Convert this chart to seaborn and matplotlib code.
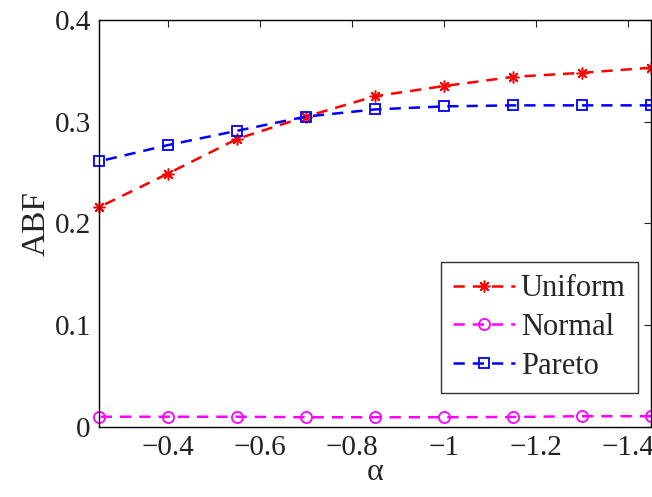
import numpy as np
import pandas as pd
import matplotlib
matplotlib.use("Agg")
import matplotlib.pyplot as plt
import seaborn as sns

alpha = [-0.25, -0.40, -0.55, -0.70, -0.85, -1.00, -1.15, -1.30, -1.45]
uniform = [0.216, 0.249, 0.283, 0.305, 0.325, 0.335, 0.344, 0.348, 0.353]
normal = [0.010, 0.010, 0.010, 0.0095, 0.0095, 0.0095, 0.0098, 0.0105, 0.0105]
pareto = [0.261, 0.277, 0.291, 0.305, 0.312, 0.315, 0.316, 0.316, 0.316]
xticks = [-0.4, -0.6, -0.8, -1.0, -1.2, -1.4]
xticklabels = ["\u22120.4", "\u22120.6", "\u22120.8", "\u22121", "\u22121.2", "\u22121.4"]
yticks = [0, 0.1, 0.2, 0.3, 0.4]
yticklabels = ["0", "0.1", "0.2", "0.3", "0.4"]

sns.set_style("white")
plt.rcParams['font.family'] = ['Liberation Serif', 'DejaVu Serif']
plt.rcParams['mathtext.fontset'] = 'stix'

fig = plt.figure(figsize=(6.52, 4.97), dpi=100)
ax = fig.add_axes([0.152, 0.141, 0.8465, 0.819])

series = [
    ("Uniform", uniform, "#ff0000", (8, 2, 0), dict(markersize=8.5, markeredgewidth=1.1)),
    ("Normal", normal, "#ff00ff", "o", dict(markersize=8, markerfacecolor="none", markeredgewidth=1.3)),
    ("Pareto", pareto, "#0000ff", "s", dict(markersize=7, markerfacecolor="none", markeredgewidth=1.3)),
]
for name, vals, col, mk, kw in series:
    df = pd.DataFrame({"alpha": alpha, "ABF": vals})
    sns.lineplot(data=df, x="alpha", y="ABF", ax=ax, color=col, marker=mk,
                 linestyle=(0, (4.5, 3.2)), linewidth=1.8, label=name,
                 markeredgecolor=col, clip_on=False, **kw)

ax.set_xlim(-0.25, -1.45)
ax.set_ylim(0, 0.4)
ax.set_xticks(xticks)
ax.set_xticklabels(xticklabels)
ax.set_yticks(yticks)
ax.set_yticklabels(yticklabels)
ax.tick_params(direction="in", length=5, width=0.8, top=True, right=True,
               labelsize=21, colors="#222222", pad=6)
for s in ax.spines.values():
    s.set_color("black")
    s.set_linewidth(1.0)
    s.set_visible(True)
ax.set_xlabel("\u03b1", fontsize=23, labelpad=-2)
ax.set_ylabel("ABF", fontsize=24, labelpad=2)

leg = ax.legend(loc="lower right", bbox_to_anchor=(0.976, 0.083), fontsize=22,
                frameon=True, fancybox=False, edgecolor="black", handlelength=2.0,
                handletextpad=0.2, borderpad=0.4, labelspacing=0.32, borderaxespad=0)
leg.get_frame().set_linewidth(1.0)

fig.savefig("out.png", dpi=100)
